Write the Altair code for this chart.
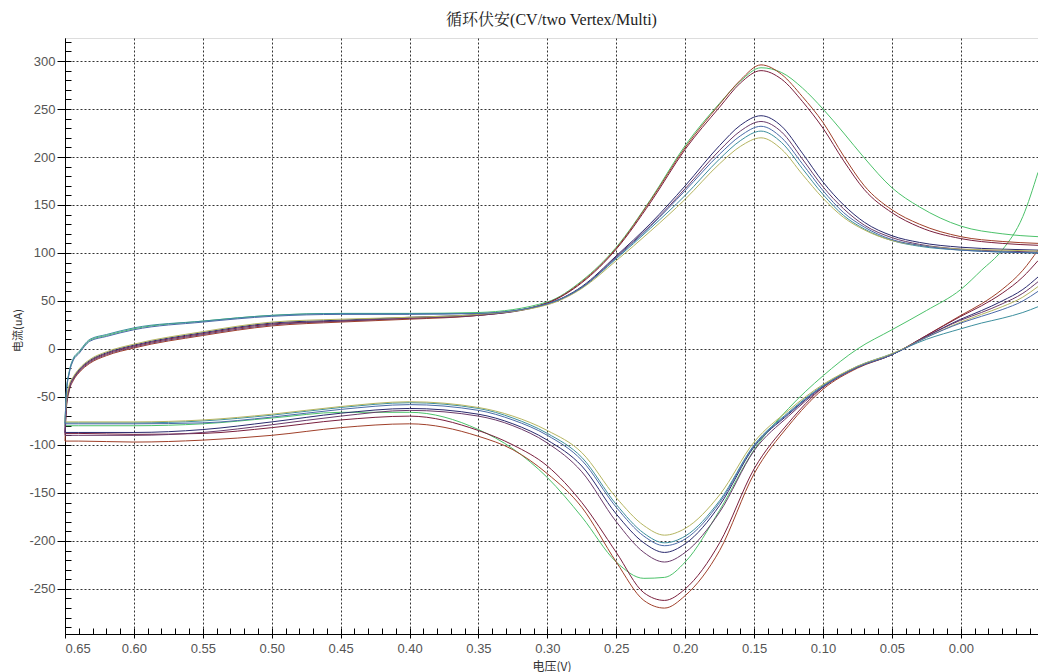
import altair as alt
import pandas as pd

# ---- data ----
XU = [0.65, 0.649, 0.647, 0.644, 0.64, 0.632, 0.62, 0.60, 0.55, 0.50, 0.45, 0.40, 0.35, 0.30,
      0.275, 0.25, 0.225, 0.20, 0.175, 0.16, 0.145, 0.13, 0.115, 0.10, 0.085, 0.07, 0.05,
      0.03, 0.00, -0.03, -0.056]
XL = [-0.056, -0.045, -0.03, -0.015, 0.00, 0.025, 0.05, 0.075, 0.10, 0.125, 0.15, 0.175,
      0.20, 0.215, 0.23, 0.25, 0.275, 0.30, 0.325, 0.35, 0.40, 0.45, 0.50, 0.55, 0.60, 0.64, 0.65]

curves = ["c1", "c2", "c3", "c4", "c5", "c6", "c7", "c8"]
colors = ["#4cc26a", "#a0402a", "#7a1f3d", "#2a2a6e", "#6a3a6a", "#3d8f9e", "#b5b560", "#4a6aa8"]

up_c1 = [-80, -45, -25, -11, -4, 9, 14, 21, 29, 35, 37, 37, 38, 49, 71, 106, 156, 212, 256, 279, 293, 288, 272, 250, 225, 199, 168, 148, 128, 120, 117]
up_c2 = [-96, -62, -44, -33, -25, -15, -7, 1, 14, 24, 28, 31, 35, 48, 70, 105, 155, 210, 255, 280, 296, 286, 263, 236, 201, 170, 145, 130, 117, 112, 110]
up_c3 = [-88, -58, -41, -31, -23, -13, -5, 3, 16, 26, 29, 32, 35, 48, 69, 104, 153, 208, 252, 277, 290, 281, 258, 230, 196, 166, 142, 127, 115, 110, 108]
up_c4 = [-87, -57, -40, -30, -22, -12, -4, 4, 17, 27, 30, 33, 36, 47, 65, 97, 131, 170, 212, 233, 243, 232, 204, 174, 150, 132, 118, 111, 106, 104, 103]
up_c5 = [-90, -60, -43, -32, -24, -14, -6, 2, 15, 25, 29, 32, 35, 47, 64, 96, 129, 167, 207, 227, 237, 226, 198, 169, 146, 129, 116, 109, 104, 102, 101]
up_c6 = [-77, -44, -24, -10, -3, 10, 15, 22, 29, 35, 37, 37, 37, 47, 64, 94, 126, 160, 198, 217, 227, 215, 188, 161, 139, 125, 113, 107, 103, 101, 100]
up_c7 = [-76, -55, -38, -29, -21, -11, -3, 5, 18, 28, 31, 33, 36, 46, 63, 92, 123, 156, 193, 211, 220, 208, 182, 157, 137, 124, 113, 108, 104, 103, 102]
up_c8 = [-78, -46, -26, -12, -5, 8, 13, 20, 28, 34, 36, 36, 37, 47, 64, 95, 128, 165, 203, 222, 232, 220, 193, 165, 142, 127, 114, 108, 103, 101, 100]

lo_c1 = [184, 138, 103, 82, 62, 40, 20, 0, -28, -62, -105, -168, -222, -238, -239, -222, -175, -134, -104, -84, -66, -66, -72, -78, -80, -80, -80]
lo_c2 = [103, 82, 62, 47, 35, 14, -6, -20, -42, -80, -130, -210, -257, -270, -262, -222, -165, -130, -105, -91, -78, -82, -90, -95, -97, -96, -96]
lo_c3 = [92, 75, 58, 45, 34, 14, -6, -19, -40, -77, -125, -202, -250, -262, -254, -212, -160, -122, -100, -85, -70, -74, -82, -88, -89, -88, -88]
lo_c4 = [75, 62, 50, 40, 31, 13, -6, -19, -39, -68, -102, -163, -203, -212, -202, -172, -122, -95, -78, -68, -62, -67, -76, -84, -87, -87, -87]
lo_c5 = [70, 58, 47, 38, 30, 13, -6, -19, -40, -70, -106, -170, -212, -222, -212, -180, -128, -98, -80, -70, -64, -70, -79, -87, -90, -90, -90]
lo_c6 = [44, 38, 32, 27, 21, 10, -5, -18, -38, -66, -100, -158, -195, -202, -192, -162, -113, -88, -72, -62, -56, -61, -69, -75, -77, -77, -77]
lo_c7 = [65, 54, 44, 36, 28, 12, -5, -18, -37, -64, -97, -152, -187, -194, -184, -155, -108, -85, -70, -61, -55, -60, -68, -74, -76, -76, -76]
lo_c8 = [60, 50, 41, 34, 27, 12, -6, -19, -39, -67, -101, -160, -198, -205, -195, -165, -116, -90, -74, -64, -58, -63, -71, -77, -78, -78, -78]

ups = [up_c1, up_c2, up_c3, up_c4, up_c5, up_c6, up_c7, up_c8]
los = [lo_c1, lo_c2, lo_c3, lo_c4, lo_c5, lo_c6, lo_c7, lo_c8]

x_major = [0.65, 0.60, 0.55, 0.50, 0.45, 0.40, 0.35, 0.30, 0.25, 0.20, 0.15, 0.10, 0.05, 0.00]
x_minor = [round(0.65 - 0.01 * i, 2) for i in range(71)]
y_major = [-250, -200, -150, -100, -50, 0, 50, 100, 150, 200, 250, 300]
y_minor = list(range(-290, 321, 10))

title_text = "循环伏安(CV/two Vertex/Multi)"
x_title = "电压(V)"
y_title = "电流(uA)"

rows = []
for name, u, l in zip(curves, ups, los):
    for i, (x, y) in enumerate(zip(XU, u)):
        rows.append({"curve": name, "seg": name + "_u", "i": i, "x": x, "y": y})
    for i, (x, y) in enumerate(zip(XL, l)):
        rows.append({"curve": name, "seg": name + "_l", "i": i, "x": x, "y": y})
df = pd.DataFrame(rows)

W, H = 973, 596
xscale = alt.Scale(domain=[-0.056, 0.65], reverse=True, nice=False, zero=False)
yscale = alt.Scale(domain=[-297, 324], nice=False, zero=False)

label_font = "Liberation Sans"
cjk = "Noto Sans CJK SC"

x_axis = alt.Axis(values=x_major, format=".2f", grid=True, gridDash=[2, 2], gridColor="#333",
                  gridWidth=1, tickSize=4, tickColor="#000", domainColor="#000",
                  labelFont=label_font, labelFontSize=13, labelColor="#555", labelPadding=4,
                  title=x_title, titleFont=cjk, titleFontSize=12, titleFontWeight="normal",
                  titleColor="#333", titleY=32, titleBaseline="middle")
y_axis = alt.Axis(values=y_major, grid=True, gridDash=[2, 2], gridColor="#333", gridWidth=1,
                  tickSize=8, tickColor="#000", domainColor="#000",
                  labelFont=label_font, labelFontSize=13, labelColor="#555", labelPadding=2,
                  labelExpr="datum.value < 0 ? '-' + format(-datum.value, 'd') : format(datum.value, 'd')",
                  title=y_title, titleFont=cjk, titleFontSize=11, titleFontWeight="normal",
                  titleColor="#333", titleX=-47, titleY=292, titleAngle=270,
                  titleBaseline="middle", titleAlign="center")

lines = alt.Chart(df).mark_line(strokeWidth=1, interpolate="monotone").encode(
    x=alt.X("x:Q", scale=xscale, axis=x_axis),
    y=alt.Y("y:Q", scale=yscale, axis=y_axis),
    color=alt.Color("curve:N", scale=alt.Scale(domain=curves, range=colors), legend=None),
    detail="seg:N",
    order="i:Q",
)

x_minor_axis = alt.Axis(orient="top", offset=-H, values=x_minor, labels=False, domain=False,
                        grid=False, tickSize=6, tickColor="#000", title="")
y_minor_axis = alt.Axis(orient="right", offset=-W, values=y_minor, labels=False, domain=False,
                        grid=False, tickSize=6, tickColor="#000", title="")

ticks_layer = alt.Chart(df).mark_point(opacity=0).encode(
    x=alt.X("x:Q", scale=xscale, axis=x_minor_axis),
    y=alt.Y("y:Q", scale=yscale, axis=y_minor_axis),
)

chart = alt.layer(lines, ticks_layer).resolve_axis(x="independent", y="independent").properties(
    width=W, height=H,
    title=alt.TitleParams(title_text, font="Liberation Serif, Noto Serif CJK SC, Noto Sans CJK SC",
                          fontSize=16, fontWeight="normal", color="#222", offset=10),
    autosize=alt.AutoSizeParams(type="none"),
    padding={"left": 65, "top": 38, "right": 0, "bottom": 38},
).configure_view(stroke="#000", strokeWidth=1).configure(background="white")

chart.save("out.html", embed_options={"renderer": "svg", "actions": False})
